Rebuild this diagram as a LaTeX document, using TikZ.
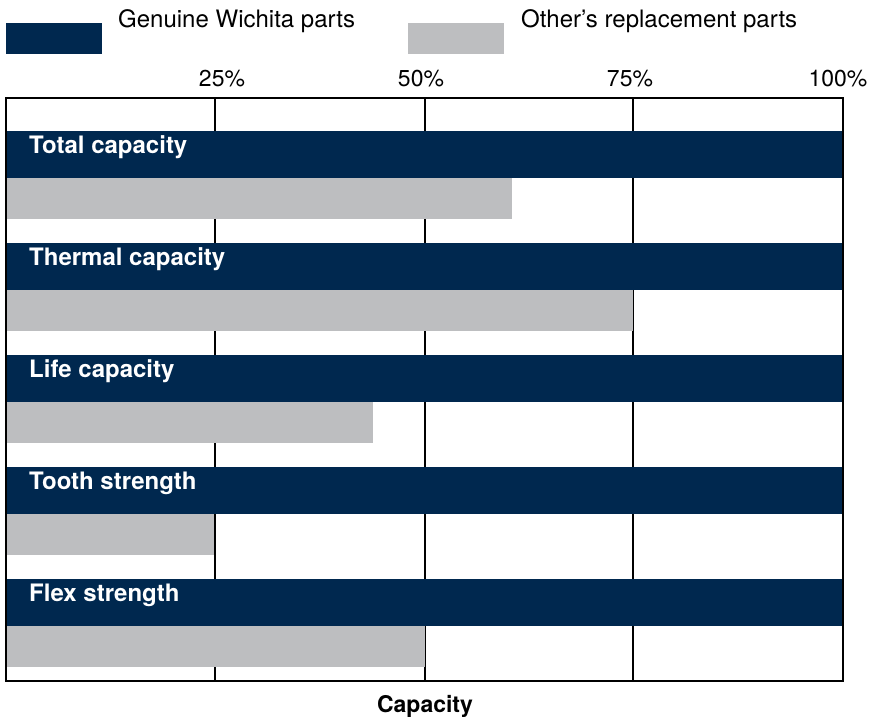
\documentclass[tikz,border=0pt]{standalone}
\usepackage{fontspec}
\setmainfont{TeX Gyre Heros}
\definecolor{wichitablue}{HTML}{00284F}
\definecolor{othergray}{HTML}{BDBEC0}
\tikzset{
  barlabel/.style={anchor=base west, text=white, inner sep=0pt, font=\fontsize{24}{27}\selectfont\bfseries},
  ticklabel/.style={anchor=base, inner sep=0pt, font=\fontsize{23}{26}\selectfont},
  legendlabel/.style={anchor=base west, inner sep=0pt, font=\fontsize{24}{27}\selectfont},
}

\begin{document}
\begin{tikzpicture}[x=1pt,y=-1pt]
  	\useasboundingbox (0,0) rectangle (869,716);
  	\begin{scope}
   	% legend
   	\fill[wichitablue] (6,23) rectangle (102,54);
   	\node[legendlabel] (genuine) at (118,27) {Genuine Wichita parts};
   	\fill[othergray] (408,23) rectangle (504,54);
   	\node[legendlabel] (other) at (521,27) {Other’s replacement parts};

   	% axis
   	\node[ticklabel] (t25) at (222,86) {25\%};
   	\node[ticklabel] (t50) at (421,86) {50\%};
   	\node[ticklabel] (t75) at (630,86) {75\%};
   	\node[ticklabel] (t100) at (838,86) {100\%};
   	\foreach \x in {215, 425, 633}
   	  \draw[line width=2pt] (\x,98) -- (\x,681);

   	% bars
   	\foreach \name/\val [count=\i from 0] in {Total capacity/512, Thermal capacity/633, Life capacity/373, Tooth strength/214, Flex strength/425} {
   	  \pgfmathsetmacro\top{131+112*\i}
   	  \fill[wichitablue] (6,\top) rectangle (843,\top+47);
   	  \fill[othergray] (6,\top+47) rectangle (\val,\top+88);
   	  \node[barlabel] (label\i) at (29,\top+22) {\name};
   	}

   	\draw[line width=2pt] (6,98) rectangle (843,681);
   	\node[ticklabel, font=\fontsize{23}{26}\selectfont\bfseries] (capacity) at (425,712) {Capacity};
  	\end{scope}
\end{tikzpicture}
\end{document}
